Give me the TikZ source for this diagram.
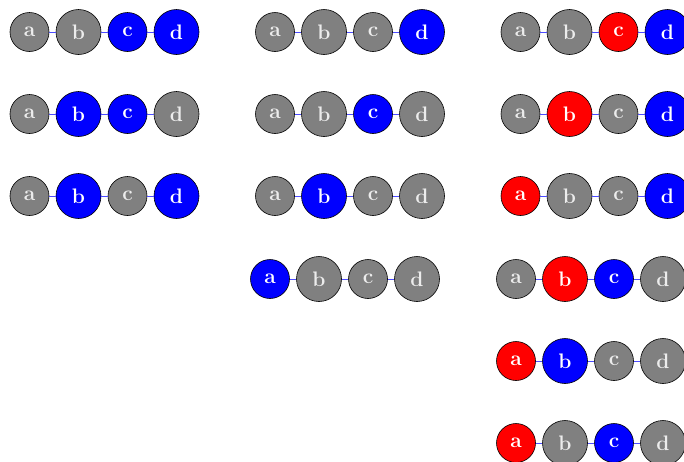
\documentclass[tikz,border=0pt]{standalone}
\usetikzlibrary{calc}
\tikzset{
  nd/.style={circle, draw=black, line width=0.6pt, inner sep=0pt, font=\fontsize{21}{25}\selectfont\bfseries},
  sm/.style={minimum size=39pt},
  lg/.style={minimum size=45pt},
  G/.style={fill=gray, text=gray!15},
  B/.style={fill=blue, text=white},
  R/.style={fill=red, text=white},
  edge/.style={draw=blue!70, line width=1pt}
}
\newcommand\mychain[7]{%
  \node[nd,sm,#4] (#1a) at (#2,#3) {a};
  \node[nd,lg,#5] (#1b) at (#2+49,#3) {b};
  \node[nd,sm,#6] (#1c) at (#2+98,#3) {c};
  \node[nd,lg,#7] (#1d) at (#2+147,#3) {d};
  \draw[edge] (#1a) -- (#1b) (#1b) -- (#1c) (#1c) -- (#1d);
}
\begin{document}
\begin{tikzpicture}[x=1pt,y=-1pt]
\useasboundingbox (0,0) rectangle (684,461);
% column 1
\mychain{pa}{29.5}{32}{G}{G}{B}{B}
\mychain{pb}{29.5}{114}{G}{B}{B}{G}
\mychain{pc}{29.5}{196}{G}{B}{G}{B}
% column 2
\mychain{qa}{275}{32}{G}{G}{G}{B}
\mychain{qb}{275}{114}{G}{G}{B}{G}
\mychain{qc}{275}{196}{G}{B}{G}{G}
\mychain{qd}{270}{279}{B}{G}{G}{G}
% column 3
\mychain{ra}{520.5}{32}{G}{G}{R}{B}
\mychain{rb}{520.5}{114}{G}{R}{G}{B}
\mychain{rc}{520.5}{196}{R}{G}{G}{B}
\mychain{rd}{516}{279}{G}{R}{B}{G}
\mychain{re}{516}{361}{R}{B}{G}{G}
\mychain{rf}{516}{443}{R}{G}{B}{G}
\end{tikzpicture}
\end{document}
